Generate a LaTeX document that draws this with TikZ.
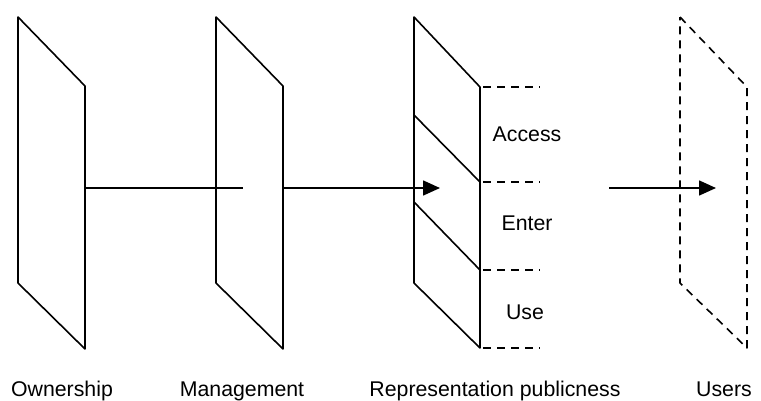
\documentclass[tikz,border=0pt]{standalone}
\usepackage{fontspec}
\setmainfont{Liberation Sans}
\usetikzlibrary{arrows.meta}

\begin{document}
\begin{tikzpicture}[x=1pt,y=-1pt,%
% common options for the planes:
plane/.style = {line width=1.6pt, line join=round},
ghost/.style = {plane, dash pattern=on 8pt off 6pt},
% common options for the texts:
caption/.style = {anchor=base, inner sep=0, font=\fontsize{21.3}{25}\selectfont},
flow/.style = {line width=1.6pt, -{Triangle[length=17pt,width=15pt]}}]
\useasboundingbox (0,0) rectangle (761,400);
% planes
\coordinate (O1) at (18,17);  \coordinate (O2) at (85,86);
\coordinate (O3) at (85,349); \coordinate (O4) at (18,283);
\coordinate (M1) at (216,17);  \coordinate (M2) at (283,86);
\coordinate (M3) at (283,349); \coordinate (M4) at (216,283);
\coordinate (R1) at (414,17);  \coordinate (R2) at (480,87);
\coordinate (R3) at (480,348); \coordinate (R4) at (414,283);
\coordinate (U1) at (680,17);  \coordinate (U2) at (747,87);
\coordinate (U3) at (747,348); \coordinate (U4) at (680,283);
\draw[plane] (O1) -- (O2) -- (O3) -- (O4) -- cycle;
\draw[plane] (M1) -- (M2) -- (M3) -- (M4) -- cycle;
\draw[plane] (R1) -- (R2) -- (R3) -- (R4) -- cycle;
\draw[ghost] (U1) -- (U2) -- (U3) -- (U4) -- cycle;
% bands of the third plane
\coordinate (Ra) at (414,115); \coordinate (Rb) at (480,182);
\coordinate (Rc) at (414,202); \coordinate (Rd) at (480,270);
\draw[plane] (Ra) -- (Rb);
\draw[plane] (Rc) -- (Rd);
\coordinate (D1) at (540,87);  \coordinate (D2) at (540,182);
\coordinate (D3) at (540,270); \coordinate (D4) at (540,348);
\draw[ghost] ([xshift=3pt]R2) -- (D1);
\draw[ghost] ([xshift=3pt]Rb) -- (D2);
\draw[ghost] ([xshift=3pt]Rd) -- (D3);
\draw[ghost] ([xshift=3pt]R3) -- (D4);
\node[caption] (access) at (527,141) {Access};
\node[caption] (enter) at (527,230) {Enter};
\node[caption] (use) at (525,319) {Use};
% connectors
\coordinate (Ohub) at (85,188);  \coordinate (Mend) at (243,188);
\coordinate (Mhub) at (283,188); \coordinate (Rtip) at (440,188);
\coordinate (Ustart) at (609,188); \coordinate (Utip) at (716,188);
\draw[plane] (Ohub) -- (Mend);
\draw[flow] (Mhub) -- (Rtip);
\draw[flow] (Ustart) -- (Utip);
% captions
\node[caption] (own) at (62,396) {Ownership};
\node[caption] (mgmt) at (242,396) {Management};
\node[caption] (repr) at (495,396) {Representation publicness};
\node[caption] (users) at (724,396) {Users};
\end{tikzpicture}
\end{document}
